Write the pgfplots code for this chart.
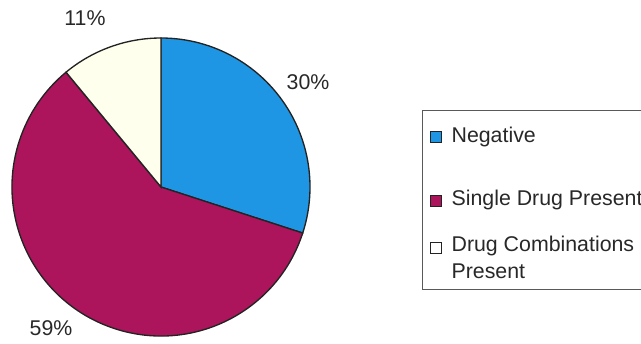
\documentclass[border=0pt]{standalone}
\usepackage{pgfplots}
\pgfplotsset{compat=1.18}
\usepackage{fontspec}
\setmainfont{Liberation Sans}
\definecolor{negblue}{RGB}{30,150,228}
\definecolor{singlemag}{RGB}{172,20,92}
\definecolor{comboivory}{RGB}{255,255,238}
\definecolor{edge}{RGB}{35,35,35}
\definecolor{txt}{RGB}{40,40,40}
\begin{document}
\begin{tikzpicture}
\fontsize{16}{19}\selectfont
\path[use as bounding box] (0,0) rectangle (480.75pt,257.25pt);
\begin{axis}[
  at={(120.75pt,117pt)}, anchor=center,
  scale only axis, width=223.5pt, height=223.5pt,
  xmin=-1, xmax=1, ymin=-1, ymax=1,
  hide axis, clip=false]
  % values: Negative 30, Single Drug Present 59, Drug Combinations Present 11
  \filldraw[fill=negblue, draw=edge, line width=1pt]
    (axis cs:0,0) -- (axis cs:0,1) arc[start angle=90, delta angle={-3.6*30}, radius=111.75pt] -- cycle;
  \filldraw[fill=singlemag, draw=edge, line width=1pt]
    (axis cs:0,0) -- (axis cs:{cos(90-3.6*30)},{sin(90-3.6*30)}) arc[start angle={90-3.6*30}, delta angle={-3.6*59}, radius=111.75pt] -- cycle;
  \filldraw[fill=comboivory, draw=edge, line width=1pt]
    (axis cs:0,0) -- (axis cs:{cos(90-3.6*89)},{sin(90-3.6*89)}) arc[start angle={90-3.6*89}, delta angle={-3.6*11}, radius=111.75pt] -- cycle;
\end{axis}
\node[text=txt] at (231pt,195.75pt) {30\%};
\node[text=txt] at (63.75pt,243.75pt) {11\%};
\node[text=txt] at (38.25pt,11.25pt) {59\%};
% legend
\draw[overlay, draw=black!65, line width=0.7pt] (316.5pt,174.75pt) rectangle (500pt,40.5pt);
\filldraw[fill=negblue, draw=edge, line width=0.7pt] (322.9pt,150.4pt) rectangle (331.1pt,158.6pt);
\filldraw[fill=singlemag, draw=edge, line width=0.7pt] (322.9pt,102.4pt) rectangle (331.1pt,110.6pt);
\filldraw[fill=white, draw=edge, line width=0.7pt] (322.9pt,67.1pt) rectangle (331.1pt,75.3pt);
\node[overlay, anchor=west, inner sep=0pt, text=txt] at (338.5pt,154.5pt) {Negative};
\node[overlay, anchor=west, inner sep=0pt, text=txt] at (338.5pt,107.25pt) {Single Drug Present};
\node[overlay, anchor=west, inner sep=0pt, text=txt] at (338.5pt,72.75pt) {Drug Combinations};
\node[overlay, anchor=west, inner sep=0pt, text=txt] at (338.5pt,54pt) {Present};
\end{tikzpicture}
\end{document}
